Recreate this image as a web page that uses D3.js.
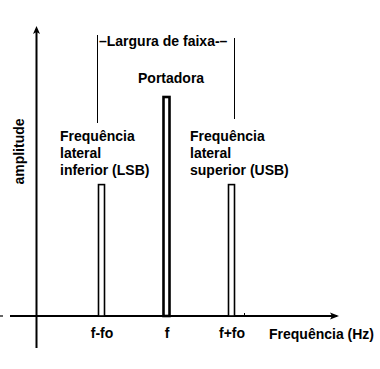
<!DOCTYPE html>
<html>
<head>
<meta charset="utf-8">
<script src="https://cdn.jsdelivr.net/npm/d3@7"></script>
<style>
  html, body { margin: 0; padding: 0; background: #fff; }
  svg { display: block; }
  text { font-family: "Liberation Sans", Arial, sans-serif; font-weight: bold; font-size: 14px; fill: #000; }
</style>
</head>
<body>
<svg id="chart" width="380" height="369"></svg>
<script>
// Spectrum of an AM signal: lower sideband, carrier, upper sideband
const categories = ["f-fo", "f", "f+fo"];
const amplitudes = [6, 10, 6];
const barStroke = [1.6, 2.6, 1.6];
const sideLabels = [
  ["Frequência", "lateral", "inferior (LSB)"],
  ["Frequência", "lateral", "superior (USB)"]
];
const carrierLabel = "Portadora";
const bandLabel = "\u2013Largura de faixa-\u2013";
const xTitle = "Frequência (Hz)";
const yTitle = "amplitude";

const svg = d3.select("#chart");

const x = d3.scalePoint().domain(categories).range([101.5, 231.5]);
const y = d3.scaleLinear().domain([0, 10]).range([316, 97]);

// axes
const ax = svg.append("g").attr("stroke", "#000").attr("fill", "none");
ax.append("line").attr("x1", 0).attr("x2", 3).attr("y1", y(0)).attr("y2", y(0)).attr("stroke-width", 1.2);
ax.append("line").attr("x1", 10).attr("x2", 337).attr("y1", y(0)).attr("y2", y(0)).attr("stroke-width", 2);
ax.append("line").attr("x1", 36.5).attr("x2", 36.5).attr("y1", 29).attr("y2", 348).attr("stroke-width", 2);
ax.append("line").attr("x1", 244.5).attr("x2", 244.5).attr("y1", y(0) - 3).attr("y2", y(0)).attr("stroke-width", 1);

// arrow heads
svg.append("path").attr("d", "M339,316 L330,312.5 L332,316 L330,319.5 Z").attr("fill", "#000");
svg.append("path").attr("d", "M36.5,26 L33,34 L36.5,32 L40,34 Z").attr("fill", "#000");

// bars
const bw = 6;
svg.append("g").selectAll("rect").data(categories).join("rect")
  .attr("x", d => x(d) - bw / 2)
  .attr("y", (d, i) => y(amplitudes[i]))
  .attr("width", bw)
  .attr("height", (d, i) => y(0) - y(amplitudes[i]))
  .attr("fill", "#fff")
  .attr("stroke", "#000")
  .attr("stroke-width", (d, i) => barStroke[i]);

// frequency tick labels
const xAxis = d3.axisBottom(x).tickSize(0).tickPadding(12);
const gx = svg.append("g").attr("transform", `translate(0,${y(0)})`).call(xAxis);
gx.select(".domain").remove();
gx.selectAll("text").attr("font-size", null).attr("font-family", null);

svg.append("text").attr("x", 269).attr("y", 339).text(xTitle);

svg.append("text")
  .attr("transform", "translate(24,151.5) rotate(-90)")
  .attr("text-anchor", "middle")
  .text(yTitle);

// bandwidth bracket
svg.append("line").attr("x1", 97.5).attr("x2", 97.5).attr("y1", 35).attr("y2", 123).attr("stroke", "#000").attr("stroke-width", 1);
svg.append("line").attr("x1", 234.5).attr("x2", 234.5).attr("y1", 38).attr("y2", 119).attr("stroke", "#000").attr("stroke-width", 1);
svg.append("text").attr("x", 99).attr("y", 46).text(bandLabel);

svg.append("text").attr("x", 138).attr("y", 83).text(carrierLabel);

// sideband descriptions
const sideX = [60, 190];
sideLabels.forEach((lines, k) => {
  const t = svg.append("text").attr("x", sideX[k]).attr("y", 141);
  lines.forEach((s, j) => {
    t.append("tspan").attr("x", sideX[k]).attr("y", 141 + j * 17).text(s);
  });
});
</script>
</body>
</html>
